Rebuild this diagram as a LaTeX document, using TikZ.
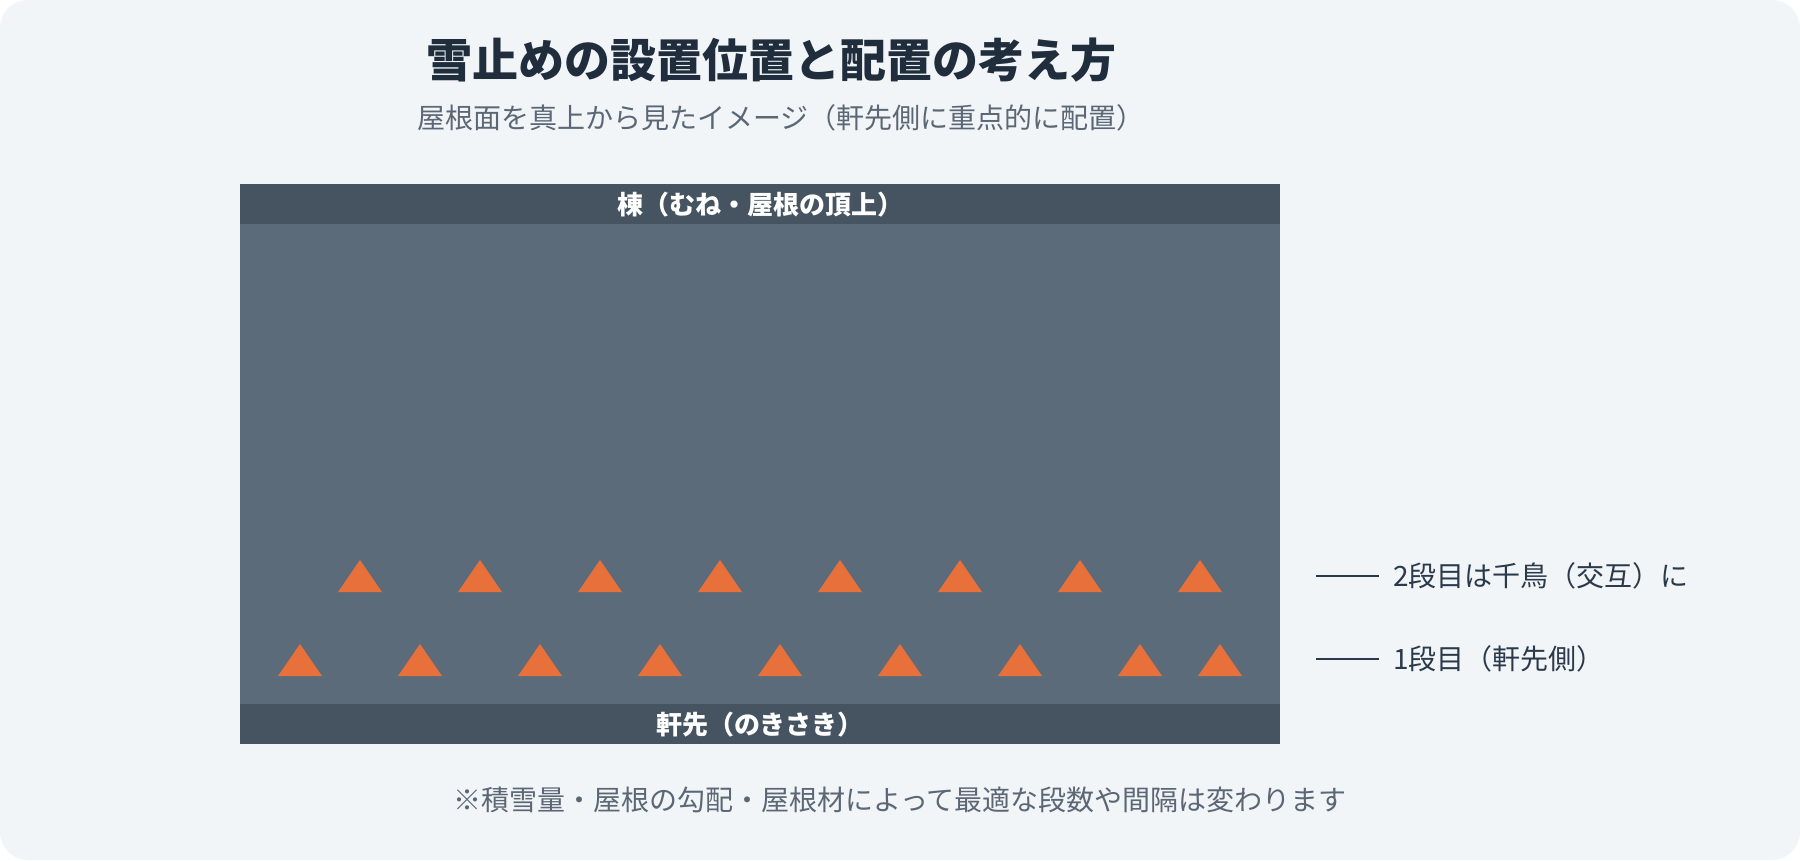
\documentclass[tikz,border=0pt]{standalone}
\usepackage{fontspec}
\setmainfont{Noto Sans CJK JP}

\definecolor{pagebg}{HTML}{F2F5F8}
\definecolor{roofcol}{HTML}{5C6B7A}
\definecolor{bandcol}{HTML}{465461}
\definecolor{stopcol}{HTML}{E8703A}
\definecolor{titlecol}{HTML}{1F2D3D}
\definecolor{subcol}{HTML}{5B6775}
\definecolor{labelcol}{HTML}{2A3A4A}

\tikzset{
  band/.style={fill=bandcol, text=white, inner sep=0, minimum width=1040, minimum height=40,
    font=\fontsize{26}{30}\selectfont\bfseries},
  stopper/.style={fill=stopcol},
  legend/.style={text=labelcol, inner sep=0, anchor=west, font=\fontsize{28}{33}\selectfont},
  leader/.style={draw=labelcol, line width=2.8}
}

\begin{document}
\begin{tikzpicture}[x=1pt,y=1pt,yscale=-1]
    \useasboundingbox (0,0) rectangle (1800,860);
    \fill[pagebg, rounded corners=28] (0,0) rectangle (1800,860);

    \node[text=titlecol, font=\fontsize{46}{55}\selectfont\bfseries] (title) at (771,60) {雪止めの設置位置と配置の考え方};
    \node[text=subcol, font=\fontsize{28}{33}\selectfont] (subtitle) at (781,118) {屋根面を真上から見たイメージ（軒先側に重点的に配置）};

    % roof seen from above
    \node[fill=roofcol, inner sep=0, minimum width=1040, minimum height=560, anchor=north west] (roof) at (240,184) {};
    \node[band, anchor=north] (ridge) at (roof.north) {棟（むね・屋根の頂上）};
    \node[band, anchor=south] (eaves) at (roof.south) {軒先（のきさき）};

    % 2nd row, staggered
    \foreach \x in {360,480,600,720,840,960,1080,1200}
      \fill[stopper] (\x-22,592) -- (\x,560) -- (\x+22,592) -- cycle;
    % 1st row, eaves side
    \foreach \x in {300,420,540,660,780,900,1020,1140,1220}
      \fill[stopper] (\x-22,676) -- (\x,644) -- (\x+22,676) -- cycle;

    \coordinate (tick2) at (1316,576);
    \coordinate (tick1) at (1316,659);
    \node[legend] (lab2) at (1393,576) {2段目は千鳥（交互）に};
    \node[legend] (lab1) at (1393,659) {1段目（軒先側）};
    \draw[leader] (tick2) -- ([xshift=-14]lab2.west);
    \draw[leader] (tick1) -- ([xshift=-14]lab1.west);

    \node[text=subcol, font=\fontsize{28}{33}\selectfont] (footnote) at (900,800) {※積雪量・屋根の勾配・屋根材によって最適な段数や間隔は変わります};
\end{tikzpicture}
\end{document}
